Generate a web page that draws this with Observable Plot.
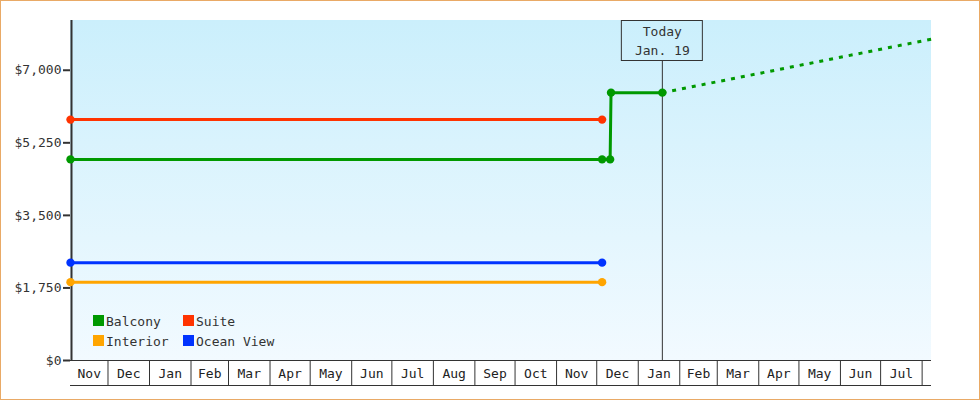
<!DOCTYPE html>
<html>
<head>
<meta charset="utf-8">
<script src="https://cdn.jsdelivr.net/npm/d3@7"></script>
<script src="https://cdn.jsdelivr.net/npm/@observablehq/plot@0.6"></script>
<style>
  html, body { margin: 0; padding: 0; background: #fff; }
  #chart svg { display: block; outline: 1px solid #e9aa66; outline-offset: -1px; }
</style>
</head>
<body>
<div id="chart"></div>
<script>
// ---- data ----
const domainStart = "2016-11-03";
const domainEnd = "2018-08-08";
const todayDate = "2018-01-19";
const todayLabel = ["Today", "Jan. 19"];

const balconyDates = ["2016-11-03", "2017-12-05", "2017-12-11", "2017-12-11T16:00Z", "2018-01-19"];
const balconyPrices = [4850, 4850, 4850, 6460, 6460];
const suiteDates = ["2016-11-03", "2017-12-05"];
const suitePrices = [5810, 5810];
const oceanViewDates = ["2016-11-03", "2017-12-05"];
const oceanViewPrices = [2360, 2360];
const interiorDates = ["2016-11-03", "2017-12-05"];
const interiorPrices = [1890, 1890];
const projectionDates = ["2018-01-19", "2018-08-08"];
const projectionPrices = [6460, 7750];

const seriesNames = ["Balcony", "Suite", "Interior", "Ocean View"];
const seriesColors = ["#009900", "#ff3300", "#ffa500", "#0033ff"];
const yTicks = [0, 1750, 3500, 5250, 7000];
const yMax = 8200;

// ---- build ----
const toRows = (name, dates, prices) => dates.map((d, i) => ({name, date: new Date(d), price: prices[i]}));
const rows = [
  ...toRows("Balcony", balconyDates, balconyPrices),
  ...toRows("Suite", suiteDates, suitePrices),
  ...toRows("Interior", interiorDates, interiorPrices),
  ...toRows("Ocean View", oceanViewDates, oceanViewPrices)
];
const projection = toRows("Balcony", projectionDates, projectionPrices);

const x0 = new Date(domainStart), x1 = new Date(domainEnd), today = new Date(todayDate);
const monthBounds = d3.utcMonth.range(x0, x1).filter(d => d > x0);
const monthMids = d3.utcMonth.range(d3.utcMonth.floor(x0), x1).map(m => {
  const a = Math.max(+m, +x0), b = Math.min(+d3.utcMonth.offset(m, 1), +x1);
  return {mid: new Date((a + b) / 2), days: (b - a) / 864e5, m};
}).filter(d => d.days > 15);
const labelFor = new Map(monthMids.map(d => [+d.mid, d3.utcFormat("%b")(d.m)]));

const color = d3.scaleOrdinal(seriesNames, seriesColors);
const ink = "#333";

function background(index, scales, values, dims) {
  const g = d3.create("svg:g");
  const grad = g.append("defs").append("linearGradient")
    .attr("id", "bgGrad").attr("x1", 0).attr("y1", 0).attr("x2", 0).attr("y2", 1);
  grad.append("stop").attr("offset", "0%").attr("stop-color", "#cbeffc");
  grad.append("stop").attr("offset", "100%").attr("stop-color", "#f2faff");
  g.append("rect")
    .attr("x", dims.marginLeft).attr("y", dims.marginTop)
    .attr("width", dims.width - dims.marginLeft - dims.marginRight)
    .attr("height", dims.height - dims.marginTop - dims.marginBottom)
    .attr("fill", "url(#bgGrad)");
  return g.node();
}

function todayBox(index, scales, values, dims) {
  const cx = scales.x(today);
  const g = d3.create("svg:g");
  g.append("rect")
    .attr("x", cx - 40.5).attr("y", dims.marginTop + 0.5)
    .attr("width", 81).attr("height", 40)
    .attr("fill", "none").attr("stroke", ink);
  todayLabel.forEach((t, i) => {
    g.append("text").attr("x", cx + 0.5).attr("y", dims.marginTop + 16 + i * 18.5)
      .attr("text-anchor", "middle").attr("fill", ink).text(t);
  });
  return g.node();
}

function legend(index, scales, values, dims) {
  const g = d3.create("svg:g").attr("text-anchor", "start");
  const left = dims.marginLeft + 23;
  const top = dims.height - dims.marginBottom - 45;
  seriesNames.forEach((name, i) => {
    const col = i % 2, row = Math.floor(i / 2);
    const x = left + col * 90, y = top + row * 20;
    g.append("rect").attr("x", x).attr("y", y).attr("width", 11).attr("height", 11).attr("fill", color(name));
    g.append("text").attr("x", x + 13).attr("y", y + 10.5).attr("text-anchor", "start").attr("fill", ink).text(name);
  });
  return g.node();
}

const chart = Plot.plot({
  width: 980,
  height: 400,
  marginLeft: 70,
  marginRight: 49,
  marginTop: 20,
  marginBottom: 40,
  style: {fontFamily: "DejaVu Sans Mono", fontSize: "13px", background: "white", color: ink, overflow: "visible"},
  x: {type: "utc", domain: [x0, x1]},
  y: {domain: [0, yMax]},
  marks: [
    background,
    Plot.ruleX([today], {stroke: ink, strokeWidth: 1, insetTop: 40}),
    Plot.ruleY([0], {stroke: ink, strokeWidth: 1}),
    Plot.ruleY([0], {stroke: ink, strokeWidth: 1, dy: 25}),
    Plot.axisX({ticks: monthBounds, tickSize: 25, tickFormat: () => "", stroke: ink, strokeWidth: 1, label: null}),
    Plot.axisX({ticks: monthMids.map(d => d.mid), tickSize: 0, tickPadding: 8, tickFormat: d => labelFor.get(+d), fill: "#222", label: null}),
    Plot.axisY({ticks: yTicks, tickSize: 7, tickPadding: 2, tickFormat: d3.format("$,"), stroke: ink, strokeWidth: 2, fill: ink, label: null}),
    Plot.ruleX([x0], {stroke: ink, strokeWidth: 2, dx: 1}),
    Plot.line(projection, {x: "date", y: "price", stroke: color("Balcony"), strokeWidth: 3, strokeDasharray: "4,6", strokeLinecap: "butt"}),
    Plot.line(rows, {x: "date", y: "price", z: "name", stroke: d => color(d.name), strokeWidth: 3}),
    Plot.dot(rows, {x: "date", y: "price", fill: d => color(d.name), r: 4.2}),
    todayBox,
    legend
  ]
});
document.getElementById("chart").append(chart);
</script>
</body>
</html>
